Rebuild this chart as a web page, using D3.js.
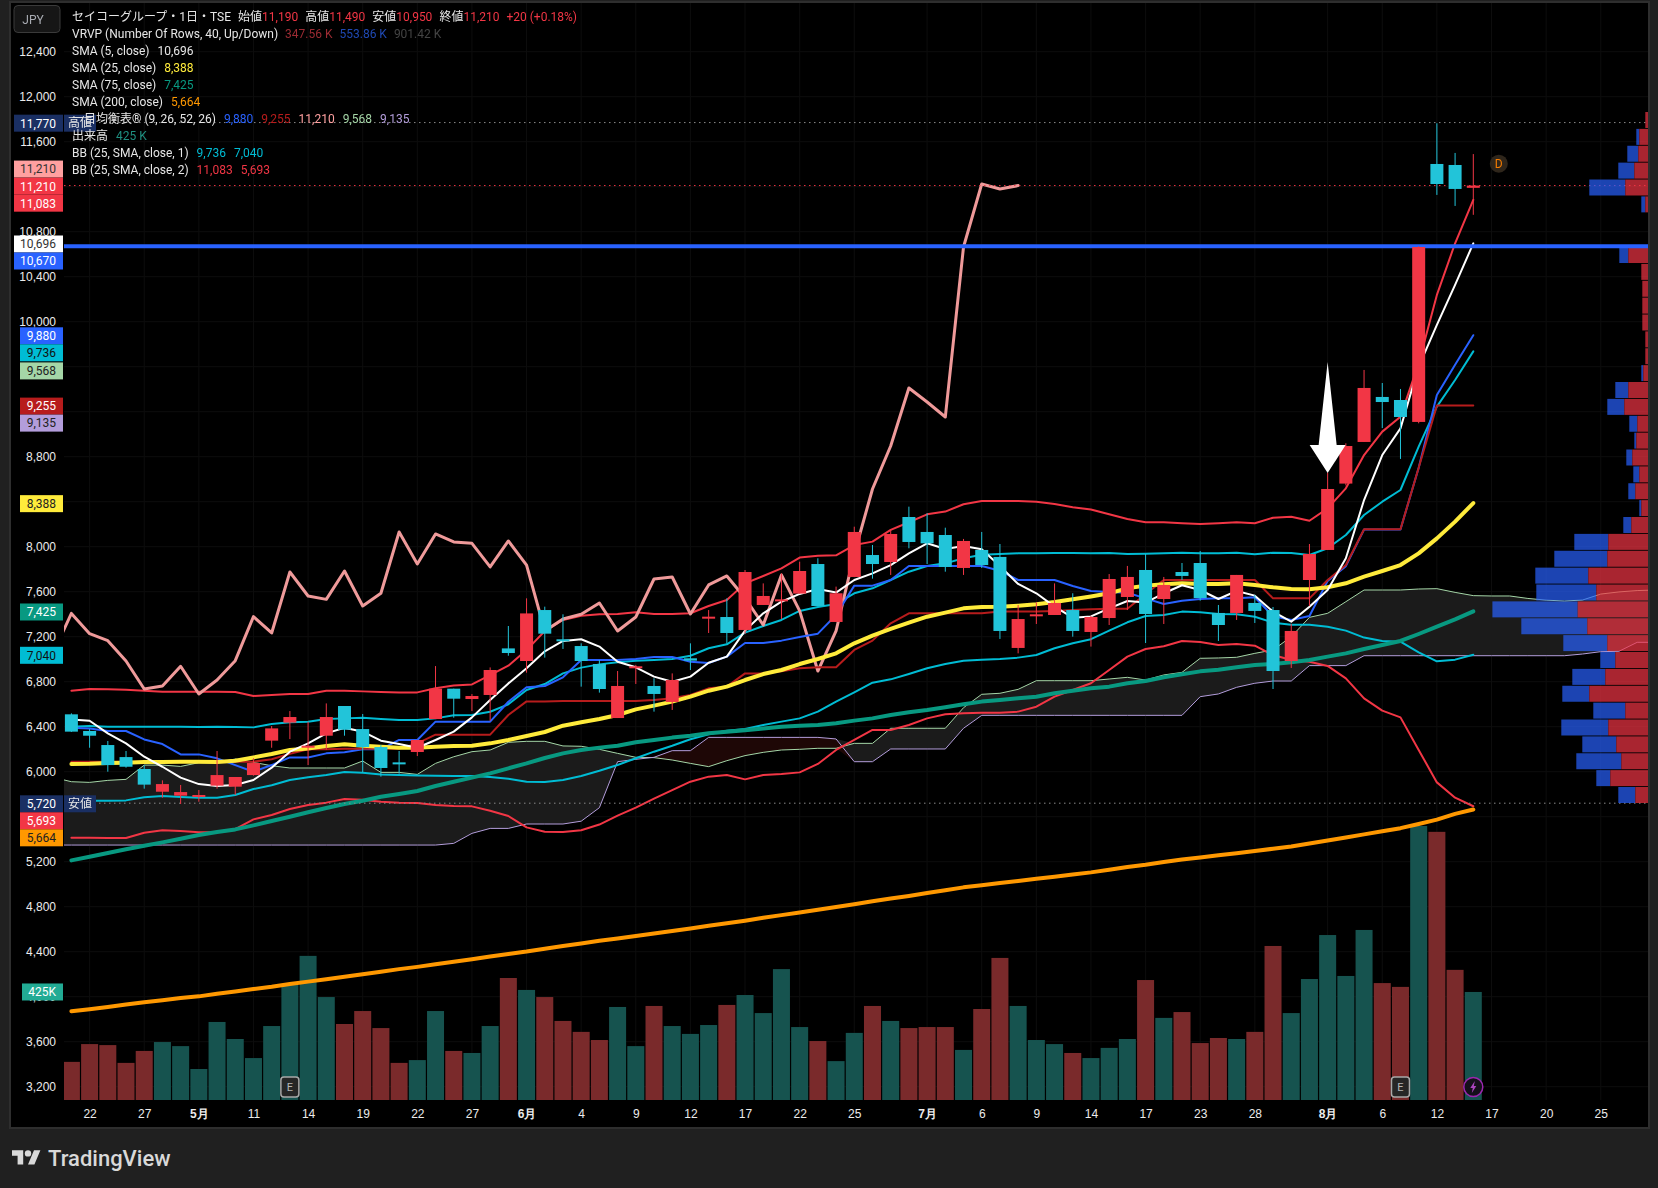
<!DOCTYPE html>
<html>
<head>
<meta charset="utf-8">
<script src="https://cdn.jsdelivr.net/npm/d3@7"></script>
<style>
  html, body { margin: 0; padding: 0; background: #202020; }
  svg { display: block; font-family: Roboto, "Noto Sans CJK JP", sans-serif; }
</style>
</head>
<body>
<svg id="chart" width="1658" height="1188"></svg>
<script>
// values, one entry per trading day
const open = [6510,6362,6237,6130,6024,5822,5787,5784,5876,5867,5970,6276,6436,6219,6320,6584,6379,6219,6083,6175,6468,6738,6646,6682,7096,6984,7437,7177,7117,6957,6477,6925,6762,6620,7008,7369,7375,7260,7482,7520,7583,7846,7331,7731,7926,7864,8264,8131,8104,7811,7971,7909,7100,7387,7393,7437,7242,7366,7553,7793,7535,7775,7855,7411,7411,7500,7437,6984,7704,7971,8561,8931,9331,9304,9109,11402,11393,11190];
const high = [6519,6379,6273,6184,6059,5923,5882,5837,6184,5953,6119,6406,6539,6444,6607,6584,6513,6237,6184,6282,6939,6738,6690,6927,7295,7541,7467,7399,7141,6993,6895,6949,6830,6874,7141,7437,7541,7793,7674,7763,7867,7897,7645,8178,8015,8149,8356,8297,8169,8069,8131,8024,7482,7506,7674,7586,7384,7757,7829,7935,7731,7855,7962,7482,7749,7571,7464,7313,8024,8658,8919,9571,9455,9402,10670,11764,11500,11490];
const low = [6353,6213,6000,6036,5849,5769,5713,5733,5849,5793,5965,6213,6290,6059,6196,6320,5994,5956,5982,6139,6468,6480,6539,6453,7031,6880,7014,7091,6756,6703,6477,6780,6534,6549,6904,7233,7141,7224,7482,7357,7583,7473,7331,7731,7716,7749,7986,7846,7778,7749,7811,7180,7052,7313,7393,7200,7112,7304,7437,7144,7313,7704,7520,7162,7349,7322,6735,6922,7473,7971,8545,8931,9055,8780,9097,11127,11029,10950];
const close = [6356,6320,6059,6044,5885,5890,5819,5793,5970,5953,6077,6385,6486,6231,6486,6373,6219,6033,6071,6282,6738,6649,6673,6904,7055,7407,7227,7165,6984,6735,6762,6937,6691,6815,6987,7378,7233,7775,7562,7532,7784,7473,7586,8131,7846,8113,8042,8030,7820,8051,7837,7251,7357,7399,7500,7251,7375,7713,7731,7402,7660,7740,7544,7304,7749,7429,6895,7251,7935,8513,8895,9411,9286,9153,10664,11224,11180,11210];

const volume = [150,220,216,146,193,228,212,122,307,240,165,291,453,567,405,299,350,283,146,157,350,193,185,291,480,433,405,311,268,236,366,212,370,291,260,295,374,413,342,515,287,232,153,264,370,311,283,287,287,197,358,559,370,236,220,185,165,205,240,472,323,346,224,244,240,268,606,342,476,649,488,669,460,445,1078,1055,512,425];
const volumeUp = [1,1,1,1,1,0,0,0,0,0,0,0,0,0,0,1,1,1,1,0,0,1,0,0,1,0,1,1,1,1,0,0,1,0,0,0,1,0,0,0,0,1,0,0,1,0,1,1,1,0,1,1,0,0,0,1,0,0,0,1,0,1,1,1,0,1,1,0,0,0,0,0,1,1,0,1,1,0];

const sma5 = [6465,6453,6341,6252,6133,6044,5947,5890,5873,5881,5926,6036,6178,6252,6341,6391,6356,6276,6246,6213,6282,6356,6483,6637,6785,6919,7070,7162,7177,7112,6978,6928,6845,6800,6845,6969,7023,7254,7408,7511,7580,7624,7592,7704,7763,7837,7941,8030,7980,8006,7977,7829,7669,7586,7467,7369,7380,7452,7517,7503,7586,7657,7615,7535,7606,7565,7423,7334,7467,7615,7897,8415,8815,9052,9601,9971,10327,10696];
const sma25 = [6068,6070,6077,6080,6086,6086,6089,6089,6086,6098,6127,6157,6193,6207,6228,6243,6231,6222,6213,6213,6222,6228,6231,6252,6282,6317,6353,6409,6439,6469,6504,6554,6587,6623,6667,6720,6756,6815,6868,6904,6957,7002,7052,7141,7209,7269,7325,7378,7414,7452,7464,7467,7476,7488,7508,7532,7558,7586,7630,7654,7666,7675,7669,7669,7675,7660,7639,7624,7621,7639,7675,7734,7784,7837,7941,8074,8223,8388];
const sma75 = [5212,5244,5277,5310,5342,5372,5404,5437,5464,5487,5523,5562,5600,5639,5677,5713,5742,5778,5802,5828,5873,5911,5947,5985,6030,6074,6122,6163,6193,6214,6231,6261,6282,6303,6320,6341,6356,6368,6385,6400,6409,6415,6430,6454,6474,6504,6528,6548,6572,6599,6623,6637,6652,6667,6697,6720,6741,6756,6786,6806,6839,6866,6892,6907,6928,6949,6957,6972,6993,7023,7052,7091,7126,7162,7224,7289,7354,7425];
const sma200 = [3870,3889,3908,3930,3951,3969,3989,4003,4027,4047,4068,4088,4112,4134,4155,4178,4200,4222,4245,4265,4288,4310,4333,4357,4380,4401,4426,4450,4473,4497,4518,4540,4562,4584,4607,4630,4653,4676,4701,4725,4748,4772,4798,4822,4848,4872,4896,4921,4946,4972,4991,5010,5029,5048,5067,5086,5105,5128,5152,5172,5197,5219,5238,5258,5276,5295,5315,5335,5362,5388,5415,5443,5470,5498,5535,5574,5625,5664];

const conversion = [6391,6385,6362,6362,6287,6246,6154,6154,6119,6059,6000,6059,6127,6127,6163,6172,6199,6199,6282,6282,6445,6445,6445,6445,6622,6750,6762,6839,6993,6993,6993,7002,7020,7020,6978,6966,7023,7144,7144,7165,7197,7227,7393,7654,7654,7704,7829,7829,7829,7829,7829,7787,7704,7704,7704,7651,7606,7597,7591,7541,7491,7520,7535,7541,7541,7550,7384,7349,7384,7696,7827,8153,8153,8153,8702,9349,9618,9880];
const base = [6089,6089,6089,6089,6089,6089,6089,6089,6089,6089,6089,6110,6160,6200,6200,6205,6205,6205,6205,6252,6329,6329,6329,6329,6504,6625,6625,6629,6629,6629,6629,6629,6637,6652,6682,6741,6756,6874,6874,6892,6919,6928,6928,7082,7165,7319,7408,7408,7408,7408,7408,7423,7423,7423,7429,7437,7443,7449,7449,7580,7704,7704,7704,7704,7704,7704,7541,7541,7541,7704,7837,8155,8155,8155,8702,9255,9255,9255];
// lagging span starts one day left of the first candle
const lagging = [7055,7407,7227,7165,6984,6735,6762,6937,6691,6815,6987,7378,7233,7775,7562,7532,7784,7473,7586,8131,7846,8113,8042,8030,7820,8051,7837,7251,7357,7399,7500,7251,7375,7713,7731,7402,7660,7740,7544,7304,7749,7429,6895,7251,7935,8513,8895,9411,9286,9153,10664,11224,11180,11210];
// both cloud spans also start one day left and run past the last candle
const spanA = [5950,5911,5905,5923,5932,6059,6059,6047,6080,6080,6113,6083,6053,6033,6033,6033,6033,6095,5994,5994,5976,6074,6133,6178,6193,6261,6270,6270,6229,6226,6199,6163,6128,6125,6104,6074,6045,6098,6143,6172,6193,6199,6208,6208,6252,6252,6386,6386,6386,6386,6569,6688,6697,6732,6809,6809,6809,6809,6824,6839,6815,6860,6883,7008,7011,7017,7052,7082,7200,7372,7408,7511,7615,7615,7615,7624,7627,7594,7565,7562,7562,7540,7525,7517,7526,7579,7598,7610,7615];
const spanB = [5348,5348,5348,5348,5348,5348,5348,5348,5348,5348,5348,5348,5348,5348,5348,5348,5348,5348,5348,5348,5348,5348,5363,5452,5496,5496,5535,5535,5535,5560,5680,6089,6110,6128,6187,6187,6305,6305,6305,6305,6305,6305,6305,6291,6089,6089,6202,6202,6202,6202,6386,6501,6501,6501,6501,6501,6501,6501,6501,6501,6501,6501,6501,6667,6691,6750,6786,6806,6806,6943,6943,6943,7031,7031,7031,7031,7031,7031,7031,7031,7031,7031,7031,7031,7046,7067,7070,7150,7150];

const bb1Upper = [6400,6406,6400,6400,6400,6400,6400,6397,6400,6397,6394,6424,6439,6445,6468,6474,6480,6468,6459,6459,6474,6501,6504,6533,6599,6726,6779,6874,6925,6954,6972,6987,6993,7002,7031,7097,7132,7236,7295,7349,7429,7464,7491,7586,7630,7704,7778,7829,7852,7897,7929,7935,7941,7941,7944,7944,7941,7944,7935,7938,7941,7947,7941,7941,7947,7932,7947,7944,7926,7986,8104,8282,8400,8504,8890,9245,9482,9736];
const bb1Lower = [5748,5742,5742,5745,5772,5784,5775,5769,5769,5793,5846,5879,5926,5950,5970,5997,5991,5976,5970,5967,5964,5961,5961,5953,5938,5911,5908,5926,5962,6009,6060,6119,6178,6231,6288,6332,6365,6380,6415,6445,6474,6534,6623,6706,6791,6821,6869,6919,6957,6987,6996,7002,7014,7037,7097,7141,7178,7254,7328,7384,7393,7423,7417,7402,7399,7378,7325,7307,7307,7289,7254,7192,7162,7156,7061,6981,6996,7040];
const bb2Upper = [6720,6735,6732,6729,6720,6711,6711,6711,6711,6708,6673,6682,6690,6690,6720,6720,6714,6708,6705,6705,6741,6767,6776,6859,6942,7082,7250,7349,7387,7399,7402,7417,7402,7402,7408,7473,7526,7674,7740,7808,7903,7920,7923,8015,8045,8149,8217,8288,8312,8377,8406,8406,8406,8400,8380,8350,8330,8288,8246,8217,8217,8208,8202,8208,8217,8208,8258,8267,8231,8341,8519,8815,9023,9156,9630,10238,10697,11083];
const bb2Lower = [5413,5413,5410,5410,5458,5479,5473,5461,5461,5490,5576,5615,5668,5704,5725,5757,5751,5733,5725,5722,5704,5695,5692,5653,5606,5505,5467,5464,5480,5530,5610,5680,5760,5837,5911,5956,5971,5932,5971,5980,5994,6069,6193,6282,6371,6371,6415,6474,6510,6519,6525,6525,6534,6578,6667,6726,6786,6904,7023,7091,7115,7162,7153,7126,7135,7120,7037,6993,6978,6940,6830,6652,6543,6483,6193,5905,5769,5693];

// volume profile rows from the top, up / down share (one unit = one pixel at full scale)
const profileUp = [2.7,8.7,9.7,13.7,22.7,2.7,0,0,19.7,6.7,5.7,5.7,5.7,2.7,2.7,4.7,19.7,23.7,10.7,11.7,15.7,8.7,12.7,6.7,16.7,39.7,40.7,59.7,51.7,70.3,60.7,40.7,32.7,42.7,58.7,22.7,39.7,31.7,26.7,37.7,12.7];
const profileDown = [0,3,11,16,36,4,0,0,9,0,0,0,0,0,0,2,13,17,8,2,6,6,7,2,8,34,53,53,60,85.3,66,44,15,33,27,32,47,34,45,14,17];
const profileTop = 11864;
const profileStep = 150;

const gridTicks = d3.range(3200, 12401, 400);
// these tick labels are fully covered by price tags in the picture
const hiddenTicks = [11200, 9600, 9200, 8400, 5600];
const priceTicks = gridTicks.filter(d => !hiddenTicks.includes(d));
const dateTickIndex = [1,4,7,10,13,16,19,22,25,28,31,34,37,40,43,47,50,53,56,59,62,65,69,72,75,78,81,84];
const dateTickLabel = ['22','27','5月','11','14','19','22','27','6月','4','9','12','17','22','25','7月','6','9','14','17','23','28','8月','6','12','17','20','25'];

const highPrice = 11770, lowPrice = 5720, lastPrice = 11210, resistance = 10670;
const earningsDays = [12, 73];
const arrowDay = 69;
const arrowPrices = [9642, 8904, 8655];
const dividendPrice = 11405;

const tagValues = [11770,11210,11210,11083,10696,10670,9880,9736,9568,9255,9135,8388,7425,7040,5720,5693,5664];
const tagFill = ['#1a2f63','#ffa0a0','#f23645','#f23645','#ffffff','#2962ff','#2962ff','#00bcd4','#a5d6a7','#b71c1c','#b39ddb','#ffeb3b','#089981','#00bcd4','#1a2f63','#f23645','#ff9800'];
const tagInk = ['#fff','#333','#fff','#fff','#333','#fff','#fff','#111','#222','#fff','#222','#222','#fff','#111','#fff','#fff','#222'];

const ink = '#e6e6e6', red = '#f23645';
const legendRows = [
  [['セイコーグループ・1日・TSE',ink,0],['始値',ink,7],['11,190',red,0],['高値',ink,7],['11,490',red,0],['安値',ink,7],['10,950',red,0],['終値',ink,7],['11,210',red,0],['+20 (+0.18%)',red,7]],
  [['VRVP (Number Of Rows, 40, Up/Down)',ink,0],['347.56 K','#9c2b33',7],['553.86 K','#1f49b3',7],['901.42 K','#444',7]],
  [['SMA (5, close)',ink,0],['10,696',ink,8]],
  [['SMA (25, close)',ink,0],['8,388','#ffeb3b',8]],
  [['SMA (75, close)',ink,0],['7,425','#089981',8]],
  [['SMA (200, close)',ink,0],['5,664','#ff9800',8]],
  [['一目均衡表® (9, 26, 52, 26)',ink,0],['9,880','#2962ff',8],['9,255','#b71c1c',8],['11,210','#ffa0a0',8],['9,568','#a5d6a7',8],['9,135','#b39ddb',8]],
  [['出来高',ink,0],['425 K','#1f8f80',8]],
  [['BB (25, SMA, close, 1)',ink,0],['9,736','#00bcd4',8],['7,040','#00bcd4',8]],
  [['BB (25, SMA, close, 2)',ink,0],['11,083',red,8],['5,693',red,8]]
];

const svg = d3.select('#chart');
const plot = { left: 64, right: 1648, top: 3, bottom: 1100 };

// frame
svg.append('rect').attr('x', 10).attr('y', 2).attr('width', 1639).attr('height', 1126)
  .attr('fill', '#000').attr('stroke', '#2e2e2e').attr('stroke-width', 2);

const x = d3.scaleLinear().domain([0, 77]).range([71.4, 1473.3]);
const y = d3.scaleLinear().domain([6000, 12400]).range([771.7, 51.7]);
const yVol = d3.scaleLinear().domain([0, 1078]).range([plot.bottom, 826]);
const profileW = d3.scaleLinear().domain([0, 155.6]).range([0, 155.6]);

svg.append('clipPath').attr('id', 'plotClip').append('rect')
  .attr('x', plot.left).attr('y', plot.top)
  .attr('width', plot.right - plot.left).attr('height', plot.bottom - plot.top);

const g = svg.append('g').attr('clip-path', 'url(#plotClip)');

// faint grid
g.append('g').selectAll('line').data(gridTicks).join('line')
  .attr('x1', plot.left).attr('x2', plot.right)
  .attr('y1', d => y(d)).attr('y2', d => y(d)).attr('stroke', '#0d0d0d');
g.append('g').selectAll('line').data(dateTickIndex).join('line')
  .attr('x1', d => x(d)).attr('x2', d => x(d))
  .attr('y1', plot.top).attr('y2', plot.bottom).attr('stroke', '#0d0d0d');

// volume bars
g.append('g').selectAll('rect').data(volume).join('rect')
  .attr('x', (d, i) => x(i) - 8.5).attr('width', 17)
  .attr('y', d => yVol(d)).attr('height', d => yVol(0) - yVol(d))
  .attr('fill', (d, i) => volumeUp[i] ? '#7a2a2b' : '#16534f');

// cloud, A over B is grey and B over A is dark red
const cloudDays = spanA.map((d, i) => i - 1);
const cloudArea = pick => d3.area()
  .x(d => x(d))
  .y0(d => y(spanB[d + 1]))
  .y1(d => y(pick(spanA[d + 1], spanB[d + 1])));
g.append('path').attr('d', cloudArea(Math.max)(cloudDays)).attr('fill', '#1b1b1b');
g.append('path').attr('d', cloudArea(Math.min)(cloudDays)).attr('fill', '#1e0706');

function drawLine(values, start, color, width) {
  const line = d3.line().x((d, i) => x(i + start)).y(d => y(d));
  g.append('path').attr('d', line(values)).attr('fill', 'none')
    .attr('stroke', color).attr('stroke-width', width)
    .attr('stroke-linejoin', 'round').attr('stroke-linecap', 'round');
}

drawLine(spanA, -1, '#a5d6a7', 1);
drawLine(spanB, -1, '#b39ddb', 1);
drawLine(bb2Upper, 0, red, 2);
drawLine(bb2Lower, 0, red, 2);
drawLine(bb1Upper, 0, '#00bcd4', 2);
drawLine(bb1Lower, 0, '#00bcd4', 2);
drawLine(lagging, -1, '#ef9a9a', 3);
drawLine(conversion, 0, '#2962ff', 2);
drawLine(base, 0, '#b71c1c', 2);
drawLine(sma200, 0, '#ff9800', 4);
drawLine(sma75, 0, '#089981', 4);
drawLine(sma25, 0, '#ffeb3b', 4);
drawLine(sma5, 0, '#ffffff', 2);

// high, low and last price lines
[[highPrice, '#8a8a8a'], [lowPrice, '#8a8a8a'], [lastPrice, red]].forEach(([p, c]) => {
  g.append('line').attr('x1', plot.left).attr('x2', plot.right)
    .attr('y1', y(p)).attr('y2', y(p)).attr('stroke', c)
    .attr('stroke-dasharray', '1.5,3.5');
});

// volume profile on the right edge
const rows = g.append('g').attr('opacity', 0.7).selectAll('g').data(profileUp).join('g')
  .attr('transform', (d, k) => `translate(0,${y(profileTop - k * profileStep)})`);
rows.append('rect')
  .attr('x', (d, k) => plot.right - profileW(d) - profileW(profileDown[k]))
  .attr('width', (d, k) => profileW(profileDown[k])).attr('height', 16).attr('fill', '#2962ff');
rows.append('rect')
  .attr('x', d => plot.right - profileW(d))
  .attr('width', d => profileW(d)).attr('height', 16).attr('fill', red);

// drawn support line
g.append('line').attr('x1', plot.left).attr('x2', plot.right)
  .attr('y1', y(resistance)).attr('y2', y(resistance))
  .attr('stroke', '#2962ff').attr('stroke-width', 4);

// candles
const candle = g.append('g').selectAll('g').data(close).join('g')
  .attr('fill', (d, i) => d >= open[i] ? red : '#22c4d9')
  .attr('stroke', (d, i) => d >= open[i] ? red : '#22c4d9');
candle.append('line')
  .attr('x1', (d, i) => x(i)).attr('x2', (d, i) => x(i))
  .attr('y1', (d, i) => y(high[i])).attr('y2', (d, i) => y(low[i]));
candle.append('rect')
  .attr('x', (d, i) => x(i) - 6.5).attr('width', 13)
  .attr('y', (d, i) => y(Math.max(d, open[i])))
  .attr('height', (d, i) => Math.max(2, Math.abs(y(d) - y(open[i]))))
  .attr('stroke', 'none');

// white arrow on the breakout day
const ax = x(arrowDay);
g.append('polygon').attr('fill', '#fff').attr('points', [
  [ax, y(arrowPrices[0])],
  [ax + 9, y(arrowPrices[1])],
  [ax + 18, y(arrowPrices[1])],
  [ax, y(arrowPrices[2])],
  [ax - 18, y(arrowPrices[1])],
  [ax - 9, y(arrowPrices[1])]
].join(' '));

// earnings badges
const badgeY = 1087;
const badges = svg.append('g').selectAll('g').data(earningsDays).join('g')
  .attr('transform', d => `translate(${x(d)},${badgeY})`);
badges.append('rect').attr('x', -9).attr('y', -10).attr('width', 18).attr('height', 20).attr('rx', 3)
  .attr('fill', '#262626').attr('stroke', '#a8a8a8').attr('stroke-width', 1.5);
badges.append('text').attr('text-anchor', 'middle').attr('dy', '0.36em')
  .attr('font-size', 11).attr('fill', '#b5b5b5').text('E');

// lightning badge on the last day
const bolt = svg.append('g').attr('transform', `translate(${x(77)},${badgeY})`);
bolt.append('circle').attr('r', 9.5).attr('fill', '#14101a').attr('stroke', '#9c27b0').attr('stroke-width', 1.5);
bolt.append('path').attr('d', 'M1.5,-6 L-3,1 L-0.5,1 L-1.5,6 L3,-1 L0.5,-1 Z').attr('fill', '#a944bd');

// dividend badge
const divi = svg.append('g').attr('transform', `translate(${x(78.4)},${y(dividendPrice)})`);
divi.append('circle').attr('r', 9).attr('fill', '#2f261b');
divi.append('text').attr('text-anchor', 'middle').attr('dy', '0.36em')
  .attr('font-size', 12).attr('fill', '#f57c00').text('D');

// axes
const yAxis = svg.append('g').attr('transform', 'translate(56,0)')
  .call(d3.axisLeft(y).tickValues(priceTicks).tickFormat(d3.format(',')).tickSize(0).tickPadding(0));
yAxis.select('.domain').remove();
yAxis.selectAll('text').attr('fill', '#ececec').attr('font-size', 12).attr('font-family', 'inherit');

const xAxis = svg.append('g').attr('transform', `translate(0,${plot.bottom})`)
  .call(d3.axisBottom(x).tickValues(dateTickIndex)
    .tickFormat(d => dateTickLabel[dateTickIndex.indexOf(d)]).tickSize(0).tickPadding(9));
xAxis.select('.domain').remove();
xAxis.selectAll('text').attr('fill', '#ececec').attr('font-size', 12).attr('font-family', 'inherit')
  .attr('font-weight', d => /月/.test(dateTickLabel[dateTickIndex.indexOf(d)]) ? 700 : 400);

// price tags, stacked so they do not overlap
let tagBottom = -Infinity;
const tagCenters = tagValues.map((v, i) => {
  if (i === 1) return y(v) - 16.5; // lagging span tag sits above the close tag
  const c = Math.max(y(v) + 0.6, tagBottom + 17);
  tagBottom = c;
  return c;
});
const tags = svg.append('g').selectAll('g').data(tagValues).join('g')
  .attr('transform', (d, i) => `translate(0,${tagCenters[i]})`);
tags.append('rect')
  .attr('x', d => d >= 10000 ? 14 : 20).attr('width', d => d >= 10000 ? 49 : 43)
  .attr('y', -8.5).attr('height', 17).attr('fill', (d, i) => tagFill[i]);
tags.append('text').attr('x', 56).attr('text-anchor', 'end').attr('dy', '0.36em')
  .attr('font-size', 12).attr('fill', (d, i) => tagInk[i]).text(d => d3.format(',')(d));

[[highPrice, '高値'], [lowPrice, '安値']].forEach(([p, label]) => {
  const c = tagCenters[tagValues.indexOf(p)];
  svg.append('rect').attr('x', 64).attr('y', c - 8.5).attr('width', 32).attr('height', 17).attr('fill', '#1a2f63');
  svg.append('text').attr('x', 80).attr('y', c).attr('dy', '0.36em').attr('text-anchor', 'middle')
    .attr('font-size', 12).attr('fill', '#e6e6e6').text(label);
});

// volume tag
const volumeTag = svg.append('g').attr('transform', `translate(0,${yVol(volume[77])})`);
volumeTag.append('rect').attr('x', 22).attr('width', 41).attr('y', -8.5).attr('height', 17).attr('fill', '#22ab94');
volumeTag.append('text').attr('x', 56).attr('text-anchor', 'end').attr('dy', '0.36em')
  .attr('font-size', 12).attr('fill', '#fff').text(volume[77] + 'K');

// JPY button
svg.append('rect').attr('x', 14).attr('y', 5.5).attr('width', 46).attr('height', 27).attr('rx', 4)
  .attr('fill', '#161616').attr('stroke', '#3a3a3a');
svg.append('text').attr('x', 33).attr('y', 19.5).attr('dy', '0.36em').attr('text-anchor', 'middle')
  .attr('font-size', 12).attr('fill', '#a8abb2').text('JPY');

// legend
const legend = svg.append('g').selectAll('text').data(legendRows).join('text')
  .attr('x', 72).attr('y', (d, i) => 17 + i * 17).attr('dy', '0.36em').attr('font-size', 12);
legend.selectAll('tspan').data(d => d).join('tspan')
  .attr('dx', d => d[2]).attr('fill', d => d[1]).text(d => d[0]);

// TradingView mark
const brand = svg.append('g');
brand.append('g').attr('transform', 'translate(12,1147) scale(0.8)').attr('fill', '#d9d9d9').call(s => {
  s.append('path').attr('d', 'M14 22H7V11H0V4h14v18zM28 22h-8l7.5-18h8L28 22z');
  s.append('circle').attr('cx', 20).attr('cy', 8).attr('r', 4);
});
brand.append('text').attr('x', 48).attr('y', 1158).attr('dy', '0.36em')
  .attr('font-size', 22).attr('font-weight', 500).attr('fill', '#d9d9d9').text('TradingView');
</script>
</body>
</html>
